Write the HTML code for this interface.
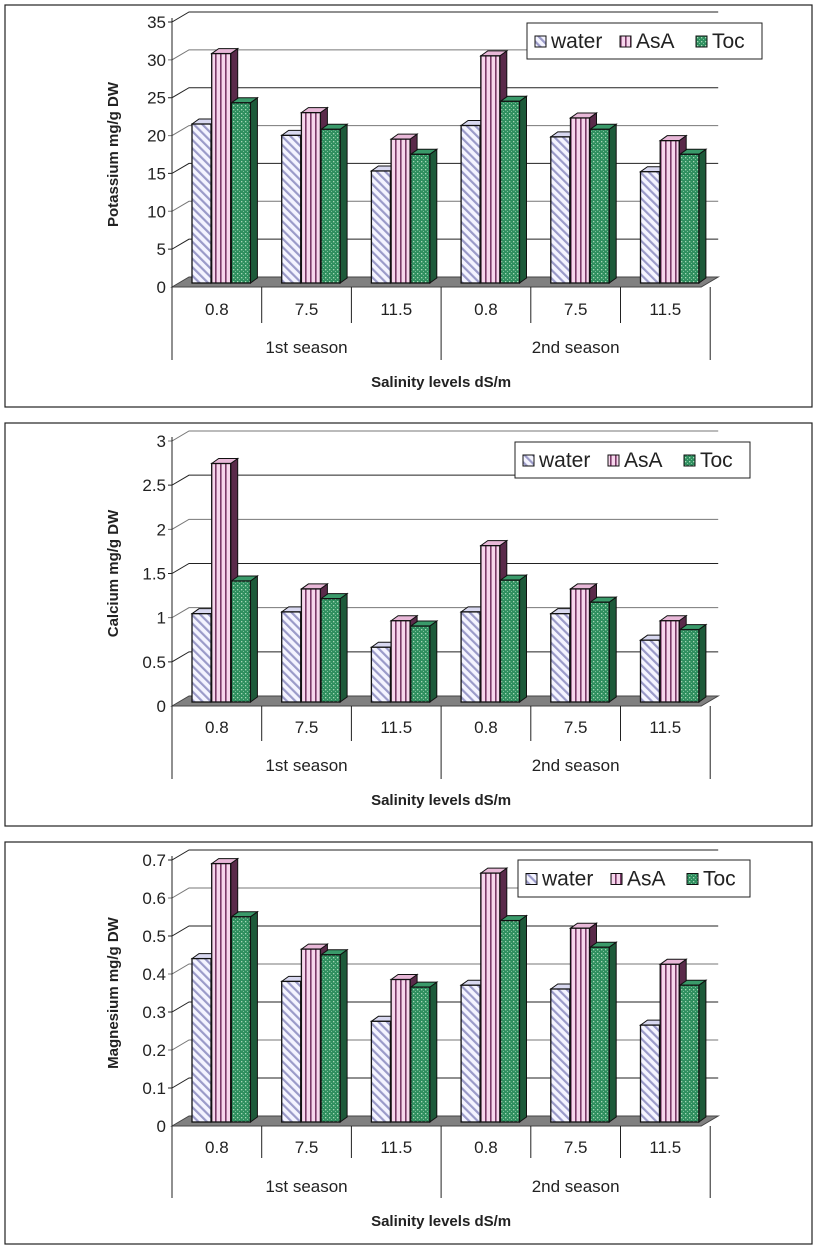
<!DOCTYPE html>
<html><head><meta charset="utf-8"><style>
html,body{margin:0;padding:0;background:#fff;}
svg{display:block;font-family:"Liberation Sans",Arial,sans-serif;}
</style></head><body>
<svg id="s" width="820" height="1252" viewBox="0 0 820 1252" xmlns="http://www.w3.org/2000/svg">
<defs>
<pattern id="pw" width="6" height="6" patternUnits="userSpaceOnUse" patternTransform="rotate(-45)"><rect width="6" height="6" fill="#f4f4ff"/><rect width="2.2" height="6" fill="#9a9ac8"/></pattern>
<pattern id="pa" width="5" height="5" patternUnits="userSpaceOnUse"><rect width="5" height="5" fill="#f6d6ec"/><rect x="0" width="1.6" height="5" fill="#7a3a68"/></pattern>
<pattern id="pt" width="4" height="4" patternUnits="userSpaceOnUse"><rect width="4" height="4" fill="#2f8f5f"/><rect x="1" y="1" width="1.3" height="1.3" fill="#a8d8b8"/><rect x="3" y="3" width="1" height="1" fill="#7cc09a"/></pattern>
</defs>
</svg>
<script>
const categories = ["0.8","7.5","11.5","0.8","7.5","11.5"];
const seasons = ["1st season","2nd season"];
const seriesNames = ["water","AsA","Toc"];
const kWater = [21,19.5,14.8,20.8,19.3,14.7];
const kAsA = [30.3,22.5,19,30,21.8,18.8];
const kToc = [23.8,20.3,17,24,20.3,17];
const caWater = [1.0,1.02,0.62,1.02,1.0,0.7];
const caAsA = [2.7,1.28,0.92,1.77,1.28,0.92];
const caToc = [1.37,1.17,0.86,1.38,1.13,0.82];
const mgWater = [0.43,0.37,0.265,0.36,0.35,0.255];
const mgAsA = [0.68,0.455,0.375,0.655,0.51,0.415];
const mgToc = [0.54,0.44,0.355,0.53,0.46,0.36];
const kTicks = ["0","5","10","15","20","25","30","35"];
const caTicks = ["0","0.5","1","1.5","2","2.5","3"];
const mgTicks = ["0","0.1","0.2","0.3","0.4","0.5","0.6","0.7"];

const NS="http://www.w3.org/2000/svg";
const svg=document.getElementById('s');
function mk(tag,attrs,parent,text){const e=document.createElementNS(NS,tag);for(const k in attrs)e.setAttribute(k,attrs[k]);if(text!==undefined)e.textContent=text;(parent||svg).appendChild(e);return e;}

const panels=[
 {name:"potassium",title:"Potassium  mg/g DW",box:[5,5,812,407],y0:287,yTop:22,max:35,ticks:kTicks,series:[kWater,kAsA,kToc],cat:315,sea:353,xt:387,st:323,lt:360,leg:[527,23,762,59]},
 {name:"calcium",title:"Calcium  mg/g DW",box:[5,423,812,826],y0:706,yTop:441,max:3,ticks:caTicks,series:[caWater,caAsA,caToc],cat:733,sea:771,xt:805,st:741,lt:779,leg:[515,442,750,478]},
 {name:"magnesium",title:"Magnesium  mg/g DW",box:[5,842,812,1244],y0:1126,yTop:860,max:0.7,ticks:mgTicks,series:[mgWater,mgAsA,mgToc],cat:1153,sea:1192,xt:1226,st:1158,lt:1198,leg:[518,860,750,897]}
];
const fills=["url(#pw)","url(#pa)","url(#pt)"];
const sides=["#b8b8d8","#5a2a4a","#1d5a3a"];
const tops=["#d8d8f0","#e8b8d8","#3a9a6a"];
const AX=172, GW=89.7, DX=17, DY=-10;

panels.forEach(p=>{
 const g=mk('g',{});
 
 
 const [bx1,by1,bx2,by2]=p.box;
 mk('rect',{x:bx1,y:by1,width:bx2-bx1,height:by2-by1,fill:'#fff',stroke:'#222','stroke-width':1.2},g);
 const yS=v=>p.y0-(v/p.max)*(p.y0-p.yTop);
 const xEnd=AX+GW*6;
 p.ticks.forEach((t,i)=>{
  const v=parseFloat(t), y=yS(v);
  if(i>0){const gl=mk('polyline',{points:`${AX-4},${y} ${AX},${y} ${AX+DX},${y+DY} ${xEnd+8},${y+DY}`,fill:'none',stroke:i%2?'#222':'#777','stroke-width':1},g);
  }
  const tl=mk('text',{x:AX-6,y:y+6,'text-anchor':'end','font-size':17,fill:'#222'},g,t);
  
 });
 const fl=mk('polygon',{points:`${AX},${p.y0} ${AX+DX},${p.y0+DY} ${xEnd+8},${p.y0+DY} ${xEnd-9},${p.y0}`,fill:'#808080',stroke:'#444','stroke-width':1},g);
 
 mk('line',{x1:AX,y1:p.yTop-4,x2:AX,y2:p.y0,stroke:'#222','stroke-width':1},g);
 p.series.forEach((arr,si)=>{
  arr.forEach((v,ci)=>{
   const x=AX+GW*ci+20+si*19.7, w=19, base=p.y0-4, top=base-(v/p.max)*(p.y0-p.yTop), d=7, dd=-5;
   const bg=mk('g',{},g);
   
   
   mk('polygon',{points:`${x+w},${top} ${x+w+d},${top+dd} ${x+w+d},${base+dd} ${x+w},${base}`,fill:sides[si],stroke:'#111','stroke-width':1},bg);
   mk('polygon',{points:`${x},${top} ${x+d},${top+dd} ${x+w+d},${top+dd} ${x+w},${top}`,fill:tops[si],stroke:'#111','stroke-width':1},bg);
   mk('rect',{x:x,y:top,width:w,height:base-top,fill:fills[si],stroke:'#111','stroke-width':1.3},bg);
  });
 });
 for(let i=0;i<=6;i++){
  const x=AX+GW*i, long=(i%3===0);
  mk('line',{x1:x,y1:p.y0,x2:x,y2:long?p.lt:p.st,stroke:'#222','stroke-width':1},g);
 }
 categories.forEach((c,i)=>{
  const t=mk('text',{x:AX+GW*(i+0.5),y:p.cat,'text-anchor':'middle','font-size':17,fill:'#222'},g,c);
  
 });
 seasons.forEach((s,i)=>{
  const t=mk('text',{x:AX+GW*(3*i+1.5),y:p.sea,'text-anchor':'middle','font-size':17,fill:'#222'},g,s);
  
 });
 const xt=mk('text',{x:AX+GW*3,y:p.xt,'text-anchor':'middle','font-size':15,'font-weight':'bold',fill:'#222'},g,'Salinity levels dS/m');
 
 const cy=(p.y0+p.yTop)/2;
 const yt=mk('text',{x:118,y:cy,'text-anchor':'middle','font-size':15,'font-weight':'bold',fill:'#222',transform:`rotate(-90 118 ${cy})`},g,p.title);
 
 const [lx1,ly1,lx2,ly2]=p.leg;
 const lg=mk('g',{},g);
 
 mk('rect',{x:lx1,y:ly1,width:lx2-lx1,height:ly2-ly1,fill:'#fff',stroke:'#222','stroke-width':1},lg);
 const offs=[8,93,169];
 seriesNames.forEach((n,i)=>{
  const le=mk('g',{},lg);
  
  const cyl=(ly1+ly2)/2;
  mk('rect',{x:lx1+offs[i],y:cyl-5,width:11,height:11,fill:fills[i],stroke:'#111','stroke-width':1},le);
  mk('text',{x:lx1+offs[i]+16,y:cyl+7,'font-size':21,fill:'#222'},le,n);
 });
});
</script>
</body></html>
